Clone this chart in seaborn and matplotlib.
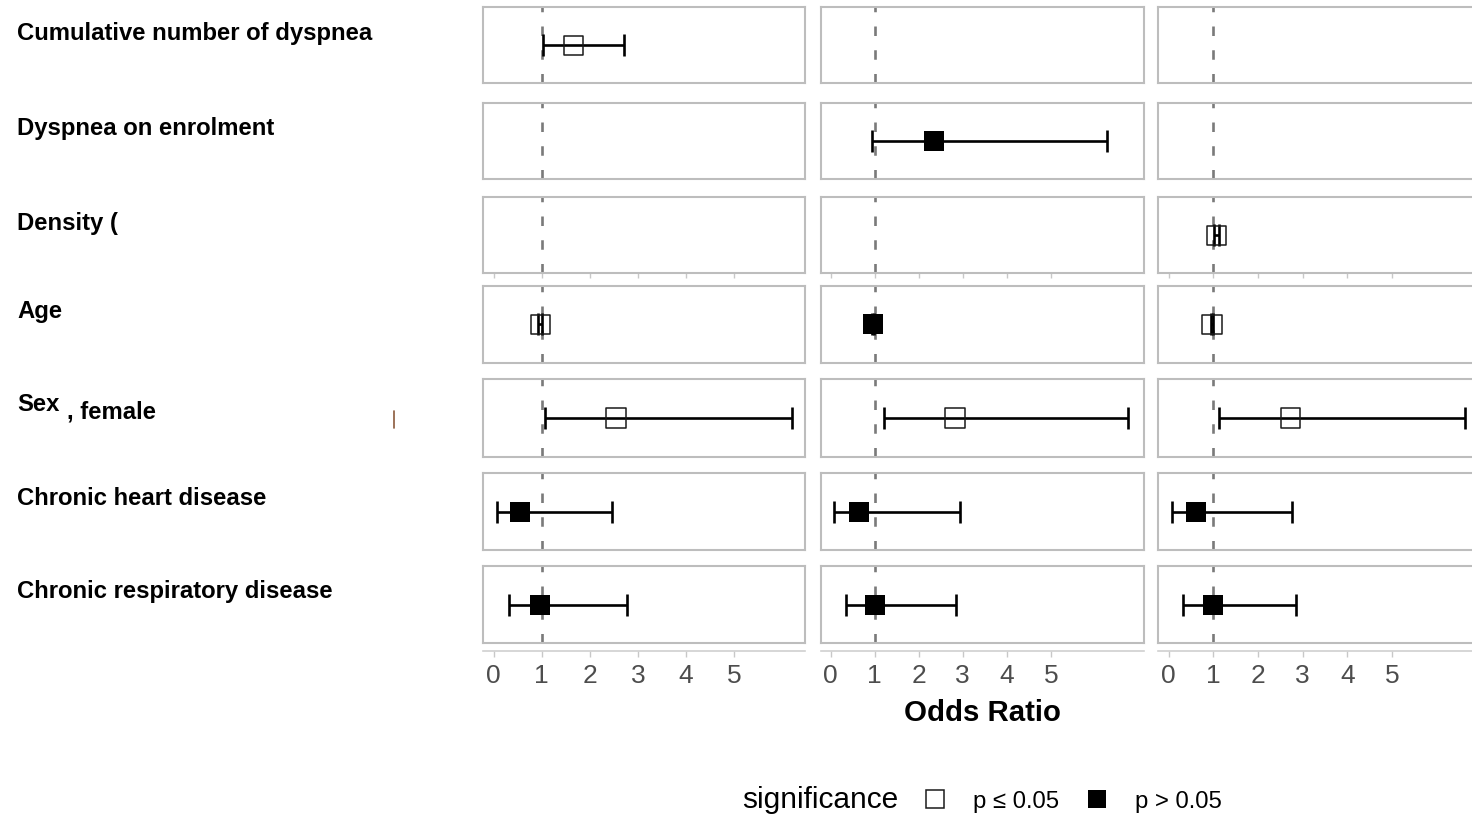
import numpy as np
import pandas as pd
import matplotlib
matplotlib.use("Agg")
import matplotlib.pyplot as plt
import seaborn as sns
from matplotlib.lines import Line2D

# ---------------- data ----------------
variables = ["Cumulative number of dyspnea", "Dyspnea on enrolment", "Density (",
             "Age", "Sex", "Chronic heart disease", "Chronic respiratory disease"]
models = ["Model 1", "Model 2", "Model 3"]
sig_levels = ["p \u2264 0.05", "p > 0.05"]
tick_values = [0, 1, 2, 3, 4, 5]

nan = np.nan
m1_or = [1.66, nan, nan, 0.97, 2.54, 0.55, 0.96]
m1_lo = [1.03, nan, nan, 0.93, 1.07, 0.07, 0.32]
m1_hi = [2.71, nan, nan, 1.01, 6.20, 2.46, 2.77]
m1_sig = [0, None, None, 0, 0, 1, 1]

m2_or = [nan, 2.35, nan, 0.96, 2.82, 0.64, 1.00]
m2_lo = [nan, 0.93, nan, 0.94, 1.20, 0.08, 0.35]
m2_hi = [nan, 6.27, nan, 0.99, 6.76, 2.94, 2.85]
m2_sig = [None, 1, None, 1, 0, 1, 1]

m3_or = [nan, nan, 1.07, 0.97, 2.72, 0.61, 1.00]
m3_lo = [nan, nan, 1.02, 0.94, 1.13, 0.07, 0.32]
m3_hi = [nan, nan, 1.13, 1.00, 6.64, 2.76, 2.85]
m3_sig = [None, None, 0, 0, 0, 1, 1]

rows = []
for m, (o, lo, hi, sg) in zip(models, [(m1_or, m1_lo, m1_hi, m1_sig),
                                        (m2_or, m2_lo, m2_hi, m2_sig),
                                        (m3_or, m3_lo, m3_hi, m3_sig)]):
    for v, a, b, c, s in zip(variables, o, lo, hi, sg):
        rows.append(dict(model=m, variable=v, OR=a, lo=b, hi=c,
                         significance=(sig_levels[s] if s is not None else None)))
df = pd.DataFrame(rows)

# ---------------- style ----------------
sns.set_theme(style="white")
plt.rcParams['font.family'] = ['Liberation Sans', 'DejaVu Sans']

W, H = 1472, 818
fig = plt.figure(figsize=(W / 100, H / 100), dpi=100)


def fx(px):
    return px / W


def fy(py):
    return 1 - py / H


row_top = [7.3, 102.7, 197.3, 286.0, 379.3, 473.3, 566.3]
row_bot = [83.3, 179.3, 273.3, 362.7, 456.7, 550.0, 642.7]
col_left = [483.3, 821.0, 1158.3]
col_right = [805.3, 1143.7, 1486.0]
xlims = [(-0.216, 6.48), (-0.22, 7.11), (-0.233, 7.1)]

border_col = "#bdbdbd"
PT = 0.72  # px -> pt

for ci, m in enumerate(models):
    for ri, v in enumerate(variables):
        ax = fig.add_axes([fx(col_left[ci]), fy(row_bot[ri]),
                           fx(col_right[ci]) - fx(col_left[ci]),
                           (row_bot[ri] - row_top[ri]) / H])
        ax.set_xlim(*xlims[ci])
        ax.set_ylim(-1, 1)
        for sp in ax.spines.values():
            sp.set_color(border_col)
            sp.set_linewidth(1.5)
        ax.set_yticks([])
        if ri == 2:
            ax.set_xticks(tick_values)
            ax.tick_params(axis='x', bottom=True, length=5 * PT, width=1,
                           color="#c8c8c8", labelbottom=False, direction='out')
        else:
            ax.set_xticks([])
        ax.axvline(1, color="#7a7a7a", lw=1.9, linestyle=(0, (3.6, 5.4)), zorder=1)

        sub = df[(df.model == m) & (df.variable == v)].dropna(subset=["OR"])
        if len(sub):
            r = sub.iloc[0]
            ax.errorbar(r.OR, 0, xerr=[[r.OR - r.lo], [r.hi - r.OR]], fmt='none',
                        ecolor='black', elinewidth=1.9, capsize=11.5 * PT,
                        capthick=1.9, zorder=2)
            d = sub.assign(y=0.0)
            if r.significance == sig_levels[0]:
                sns.scatterplot(data=d, x="OR", y="y", marker="s", s=196,
                                facecolor="none", edgecolor="#1a1a1a",
                                linewidth=1.1, ax=ax, legend=False, zorder=3)
            else:
                sns.scatterplot(data=d, x="OR", y="y", marker="s", s=200,
                                color="black", linewidth=0, ax=ax,
                                legend=False, zorder=3)
        ax.set_xlabel("")
        ax.set_ylabel("")
        ax.set_xlim(*xlims[ci])
        ax.set_ylim(-1, 1)

    # bottom axis
    bax = fig.add_axes([fx(col_left[ci]), fy(650.7),
                        fx(col_right[ci]) - fx(col_left[ci]), 0.0001])
    bax.set_xlim(*xlims[ci])
    bax.patch.set_alpha(0)
    for k in ["top", "left", "right"]:
        bax.spines[k].set_visible(False)
    bax.spines["bottom"].set_color("#d0d0d0")
    bax.spines["bottom"].set_linewidth(1.2)
    bax.set_yticks([])
    bax.set_xticks(tick_values)
    bax.set_xticklabels([str(t) for t in tick_values])
    bax.tick_params(axis='x', bottom=True, length=6 * PT, width=1, color="#c8c8c8",
                    labelsize=19, labelcolor="#4d4d4d", pad=5.5, direction='out')

# row labels
baselines = [40, 135, 230, 318, 411, 505, 598]
for v, b in zip(variables, baselines):
    fig.text(fx(17), fy(b), v, fontsize=17.2, fontweight='bold', ha='left',
             va='baseline', color='black')
fig.text(fx(67), fy(419), ", female", fontsize=17.2, fontweight='bold', ha='left',
         va='baseline', color='black')
fig.add_artist(Line2D([fx(394.5), fx(394.5)], [fy(411), fy(428)],
                      color="#8b5a3c", lw=1.2))

# x label
fig.text(fx(982), fy(721), "Odds Ratio", fontsize=21.2, fontweight='bold',
         ha='center', va='baseline', color='black')

# legend (manual placement, ggplot-style horizontal legend)
fig.text(fx(742), fy(808), "significance", fontsize=21.5, ha='left',
         va='baseline', color='black')
fig.add_artist(Line2D([fx(935.5)], [fy(799)], marker='s', linestyle='none',
                      markersize=13.2, markerfacecolor='white',
                      markeredgecolor='#1a1a1a', markeredgewidth=1.1))
fig.add_artist(Line2D([fx(1097)], [fy(798.5)], marker='s', linestyle='none',
                      markersize=13.5, markerfacecolor='black',
                      markeredgewidth=0))
fig.text(fx(973), fy(808), sig_levels[0], fontsize=17.2, ha='left',
         va='baseline', color='black')
fig.text(fx(1135), fy(808), sig_levels[1], fontsize=17.2, ha='left',
         va='baseline', color='black')

fig.savefig("out.png", dpi=100, facecolor='white')
